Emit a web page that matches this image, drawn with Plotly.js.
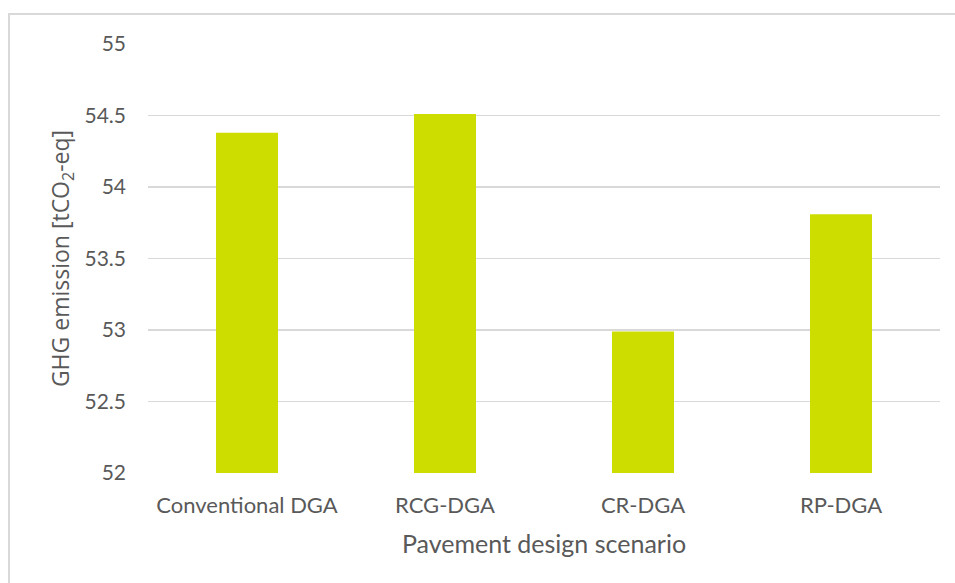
<!DOCTYPE html>
<html>
<head>
<meta charset="utf-8">
<script src="https://cdn.plot.ly/plotly-3.0.1.min.js"></script>
<style>
  html, body { margin: 0; padding: 0; background: #fff; }
  #wrap { position: relative; width: 955px; height: 583px; overflow: hidden; }
  #frame { position: absolute; left: 8px; top: 13px; width: 1000px; height: 1000px;
           border-left: 2px solid #d9d9d9; border-top: 2px solid #d9d9d9; box-sizing: border-box; }
  #chart { position: absolute; left: 0; top: 0; width: 955px; height: 583px; }
</style>
</head>
<body>
<div id="wrap">
  <div id="frame"></div>
  <div id="chart"></div>
</div>
<script>
const categories = ["Conventional DGA", "RCG-DGA", "CR-DGA", "RP-DGA"];
const emissions = [54.38, 54.51, 52.99, 53.81];
const yTicks = [52, 52.5, 53, 53.5, 54, 54.5, 55];

const textColor = '#595959';
const data = [{
  type: 'bar',
  x: categories,
  y: emissions,
  marker: { color: '#cddd00' },
  hoverinfo: 'x+y'
}];

const layout = {
  width: 955, height: 583,
  paper_bgcolor: 'rgba(0,0,0,0)',
  plot_bgcolor: 'rgba(0,0,0,0)',
  margin: { l: 148, r: 15, t: 44, b: 110 },
  bargap: 0.687,
  showlegend: false,
  font: { family: 'Lato, "Liberation Sans Narrow", sans-serif', color: textColor },
  xaxis: {
    type: 'category',
    showgrid: false, showline: false, zeroline: false,
    ticks: '', ticklabelstandoff: 17,
    tickfont: { size: 22, color: textColor, family: 'Lato, sans-serif' },
    title: { text: 'Pavement design scenario', standoff: 18,
             font: { size: 25, color: textColor, family: 'Lato, sans-serif' } },
    automargin: false
  },
  yaxis: {
    range: [52, 55],
    tickvals: yTicks,
    ticktext: yTicks.map(String),
    showgrid: true, gridcolor: '#d9d9d9', gridwidth: 1.5,
    showline: false, zeroline: false,
    ticks: '', ticklabelstandoff: 21,
    tickfont: { size: 21, color: textColor, family: 'Lato, sans-serif' },
    title: { text: 'GHG emission [tCO<sub>2</sub>-eq]', standoff: 8,
             font: { size: 23, color: textColor, family: '"Open Sans", sans-serif' } },
    automargin: false
  }
};

Plotly.newPlot('chart', data, layout, { displayModeBar: false, staticPlot: true });
</script>
</body>
</html>
